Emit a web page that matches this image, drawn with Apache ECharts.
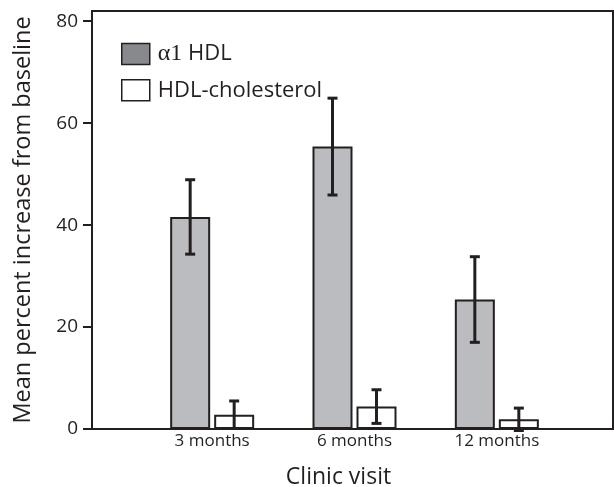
<!DOCTYPE html>
<html>
<head>
<meta charset="utf-8">
<script src="https://cdn.jsdelivr.net/npm/echarts@6/dist/echarts.min.js"></script>
<style>html,body{margin:0;padding:0;background:#fff}#c{width:614px;height:487px}</style>
</head>
<body>
<div id="c"></div>
<script>
var categories = ['3 months', '6 months', '12 months'];
var alphaHDL = [41.6, 55.4, 25.4];
var alphaErr = [7.3, 9.5, 8.4];
var hdlChol = [2.8, 4.4, 1.9];
var hdlErr = [2.7, 3.3, 2.2];
var yTicks = [0, 20, 40, 60, 80];
var seriesNames = ['α1 HDL', 'HDL-cholesterol'];

var FONT = 'Open Sans';
var BAR_W = 40, GAP_PX = 4;

function errSeries(vals, errs, side) {
  var data = vals.map(function (v, i) { return [i, v - errs[i], v + errs[i]]; });
  return {
    type: 'custom', xAxisIndex: 1, yAxisIndex: 1, z: 10, silent: true,
    data: data,
    renderItem: function (params, api) {
      var lo = api.coord([api.value(0), api.value(1)]);
      var hi = api.coord([api.value(0), api.value(2)]);
      var off = side * (BAR_W + GAP_PX) / 2;
      var x = lo[0] + off, hw = 5;
      var st = { stroke: '#231f20', lineWidth: 3 };
      return { type: 'group', children: [
        { type: 'line', shape: { x1: x, y1: lo[1], x2: x, y2: hi[1] }, style: st },
        { type: 'line', shape: { x1: x - hw, y1: hi[1], x2: x + hw, y2: hi[1] }, style: st },
        { type: 'line', shape: { x1: x - hw, y1: lo[1], x2: x + hw, y2: lo[1] }, style: st }
      ]};
    }
  };
}

var chart = echarts.init(document.getElementById('c'));
chart.setOption({
  animation: false,
  backgroundColor: '#fff',
  grid: [
    { left: 92, right: 1, top: 11, bottom: 58, show: true, borderColor: '#231f20', borderWidth: 2,
      backgroundColor: 'transparent', containLabel: false, outerBoundsMode: 'none' },
    { left: 141, right: 46, top: 11, bottom: 58, containLabel: false, outerBoundsMode: 'none' }
  ],
  legend: {
    orient: 'vertical', left: 116, top: 37, itemWidth: 28, itemHeight: 21, itemGap: 13,
    icon: 'rect',
    data: [
      { name: seriesNames[0], itemStyle: { color: '#88898c', borderColor: '#231f20', borderWidth: 1.5 } },
      { name: seriesNames[1], itemStyle: { color: '#ffffff', borderColor: '#231f20', borderWidth: 1.5 } }
    ],
    formatter: function (n) { return n === seriesNames[0] ? '{s|α1} HDL' : n; },
    textStyle: { fontFamily: FONT, fontSize: 22, color: '#231f20', padding: [0, 0, 0, 3],
      rich: { s: { fontFamily: 'Liberation Serif', fontSize: 24, color: '#231f20' } } }
  },
  xAxis: [
    { type: 'value', gridIndex: 0, min: 0, max: 1, show: true,
      axisLine: { show: false }, axisTick: { show: false }, axisLabel: { show: false }, splitLine: { show: false },
      name: 'Clinic visit', nameLocation: 'middle', nameGap: 37,
      nameTextStyle: { fontFamily: FONT, fontSize: 23, color: '#231f20', padding: [0, 28, 0, 0] } },
    { type: 'category', gridIndex: 1, data: categories,
      axisLine: { show: false }, axisTick: { show: false },
      axisLabel: { fontFamily: FONT, fontSize: 17, color: '#231f20', margin: 4 } }
  ],
  yAxis: [
    { type: 'value', gridIndex: 0, min: 0, max: 82, interval: 20,
      axisLine: { show: true, lineStyle: { color: '#231f20', width: 2 } },
      axisTick: { show: true, inside: false, length: 9, lineStyle: { color: '#231f20', width: 2 },
        customValues: yTicks },
      axisLabel: { fontFamily: FONT, fontSize: 19, color: '#231f20', margin: 14, customValues: yTicks },
      splitLine: { show: false },
      name: 'Mean percent increase from baseline', nameLocation: 'middle', nameGap: 57,
      nameTextStyle: { fontFamily: FONT, fontSize: 23.5, color: '#231f20' } },
    { type: 'value', gridIndex: 1, min: 0, max: 82, show: false }
  ],
  series: [
    { name: seriesNames[0], type: 'bar', xAxisIndex: 1, yAxisIndex: 1, data: alphaHDL,
      barWidth: BAR_W, barGap: '10%',
      itemStyle: { color: '#bbbcbf', borderColor: '#231f20', borderWidth: 2 } },
    { name: seriesNames[1], type: 'bar', xAxisIndex: 1, yAxisIndex: 1, data: hdlChol,
      barWidth: BAR_W, barGap: '10%',
      itemStyle: { color: '#ffffff', borderColor: '#231f20', borderWidth: 2 } },
    errSeries(alphaHDL, alphaErr, -1),
    errSeries(hdlChol, hdlErr, 1)
  ]
});
</script>
</body>
</html>
